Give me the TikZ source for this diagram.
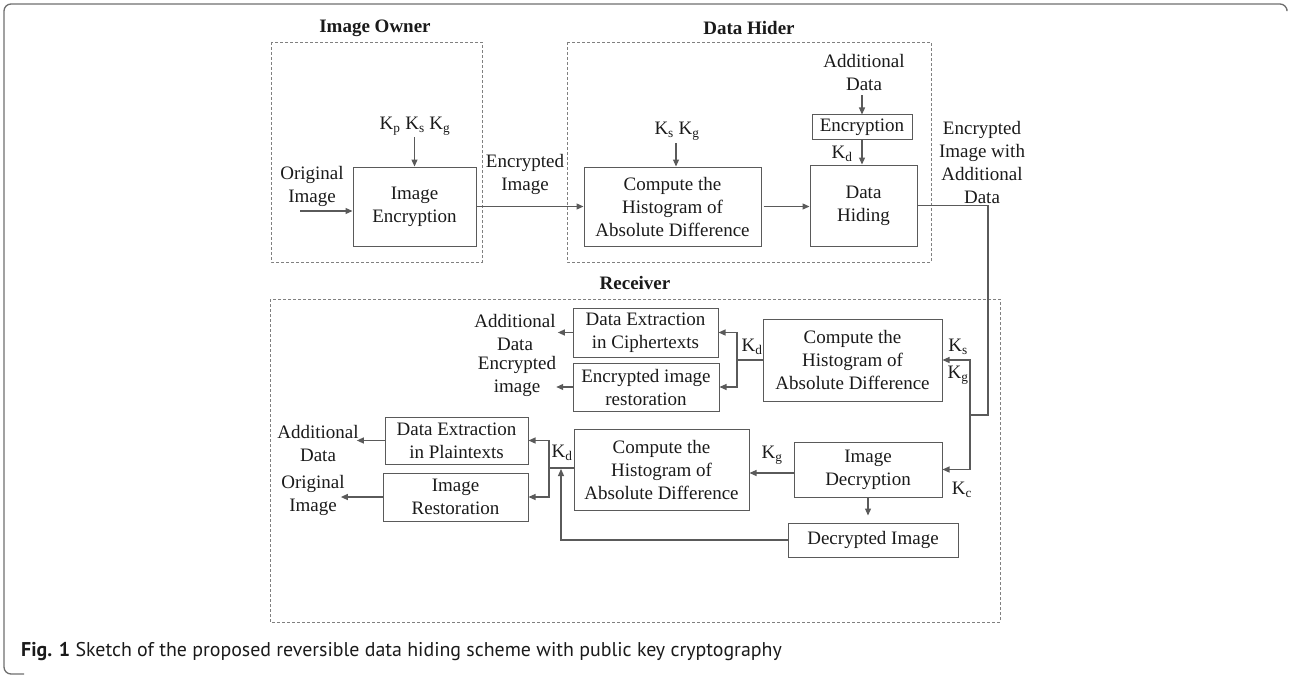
\documentclass[tikz,border=0pt]{standalone}
\usepackage{fontspec}
\setmainfont{Liberation Serif}
\newfontfamily\capfont{PT Sans}
\usetikzlibrary{arrows.meta}
\definecolor{linec}{HTML}{5A5A5A}
\definecolor{dashc}{HTML}{808080}
\definecolor{txtc}{HTML}{1A1A1A}
\definecolor{framec}{HTML}{6E6E6E}

\begin{document}
\begin{tikzpicture}[x=1pt,y=-1pt,
  every node/.style={font=\fontsize{19}{23}\selectfont, text=txtc},
  blk/.style={draw=linec, line width=1pt, align=center, inner sep=0pt},
  lbl/.style={align=center, inner sep=0pt},
  grp/.style={draw=dashc, line width=0.9pt, dash pattern=on 3pt off 2pt},
  conn/.style={draw=linec, line width=1.2pt},
  arr/.style={conn, -{Triangle[length=7pt,width=6pt]}},
  ttl/.style={font=\fontsize{19}{23}\selectfont\bfseries, inner sep=0pt}
]
\useasboundingbox (0,0) rectangle (1289,674);

% outer frame (top and left sides)
\draw[framec, line width=1.3pt, rounded corners=7pt]
  (1287,9) -- (1287,4) -- (4,4) -- (4,674) -- (24,674);

% groups
\draw[grp] (271,42) rectangle (482,262);
\draw[grp] (567,42) rectangle (931,262);
\draw[grp] (270,299) rectangle (1000,622);
\node[ttl] (tOwner) at (375,28) {Image Owner};
\node[ttl] (tHider) at (749,28) {Data Hider};
\node[ttl] (tRecv)  at (635,283) {Receiver};

% ---------------- Image owner ----------------
\node[blk, minimum width=123pt, minimum height=79pt] (enc) at (414.5,206.5) {Image\\Encryption};
\node[lbl] (k1) at (415,126) {K\textsubscript{p} K\textsubscript{s} K\textsubscript{g}};
\node[lbl] (orig) at (312,186) {Original\\Image};
\coordinate (oin) at (300,211);
\draw[arr] (oin) -- (oin -| enc.west);
\draw[arr] (k1.south -| enc.north) ++(0,2) -- (enc.north);
\node[lbl] (encimg) at (525,174) {Encrypted\\Image};

% ---------------- Data hider ----------------
\node[blk, minimum width=177pt, minimum height=79pt] (cdh) at (672.5,206.5) {Compute the\\Histogram of\\Absolute Difference};
\node[blk, minimum width=107pt, minimum height=81pt] (hide) at (863.5,205.5) {Data\\Hiding};
\node[blk, minimum width=100pt, minimum height=24pt] (encr) at (862,127) {Encryption};
\node[lbl] (k2) at (677,131) {K\textsubscript{s} K\textsubscript{g}};
\node[lbl] (adata) at (864,73) {Additional\\Data};
\node[lbl] (kd1) at (842,154) {K\textsubscript{d}};
\node[lbl] (outlbl) at (982,163) {Encrypted\\Image with\\Additional\\Data};

\draw[arr] (enc.east) -- (cdh.west |- enc.east);
\draw[arr] (676,143) coordinate (k2a) -- (k2a |- cdh.north);
\draw[arr] ([xshift=2pt]cdh.east) -- (hide.west |- cdh.east);
\draw[arr] (adata.south -| encr.north) ++(0,4) -- (encr.north);
\draw[arr] (encr.south) -- (encr.south |- hide.north);

% ---------------- Receiver ----------------
\node[blk, minimum width=179pt, minimum height=82pt] (rcd) at (852.5,360) {Compute the\\Histogram of\\Absolute Difference};
\node[blk, minimum width=145pt, minimum height=49pt] (dec) at (645.5,332.5) {Data Extraction\\in Ciphertexts};
\node[blk, minimum width=146pt, minimum height=48pt] (eir) at (646,387) {Encrypted image\\restoration};
\node[blk, minimum width=143pt, minimum height=47pt] (dep) at (456.5,440.5) {Data Extraction\\in Plaintexts};
\node[blk, minimum width=145pt, minimum height=48pt] (ir) at (455.5,497) {Image\\Restoration};
\node[blk, minimum width=175pt, minimum height=81pt] (rcl) at (661.5,469.5) {Compute the\\Histogram of\\Absolute Difference};
\node[blk, minimum width=148pt, minimum height=55pt] (idec) at (868,469.5) {Image\\Decryption};
\node[blk, minimum width=170pt, minimum height=34pt] (dimg) at (873,540) {Decrypted Image};

\node[lbl] (ks3) at (958,347) {K\textsubscript{s}};
\node[lbl] (kg3) at (958,375) {K\textsubscript{g}};
\node[lbl] (kc3) at (962,490) {K\textsubscript{c}};
\node[lbl] (kd3) at (752,347) {K\textsubscript{d}};
\node[lbl] (kd4) at (562,453) {K\textsubscript{d}};
\node[lbl] (kg4) at (772,455) {K\textsubscript{g}};

\node[lbl] (adu) at (515,332) {Additional\\Data};
\node[lbl] (eil) at (517,376) {Encrypted\\image};
\node[lbl] (adl) at (318,443) {Additional\\Data};
\node[lbl] (oil) at (313,495) {Original\\Image};

% data hider output into the receiver
\coordinate (bend) at (988,415);
\coordinate (bus) at (970,415);
\draw[conn] (hide.east) -| (bend) -- (bus);
\draw[arr] (bus) |- (rcd.east);
\draw[arr] (bus) |- (idec.east);

% upper branch
\coordinate (j1) at (737,360);
\draw[conn] (rcd.west) -- (j1);
\draw[arr] (j1) |- (dec.east);
\draw[arr] (j1) |- (eir.east);
\draw[arr] (dec.west) -- ([xshift=2pt]adu.east |- dec.west);
\draw[arr] (eir.west) -- ([xshift=0pt]eil.east |- eir.west);

% lower branch
\coordinate (j2) at (549,468);
\draw[conn] (rcl.west |- j2) -- (j2);
\draw[arr] (j2) |- (dep.east);
\draw[arr] (j2) |- (ir.east);
\draw[arr] (dep.west) -- ([xshift=-2pt]adl.east |- dep.west);
\draw[arr] (ir.west) -- ([xshift=-4pt]oil.east |- ir.west);

\draw[arr] (idec.west |- 0,473) -- (rcl.east |- 0,473);
\draw[arr, shorten >=7pt] (idec.south) -- (idec.south |- dimg.north);
\coordinate (up) at (561,469);
\draw[arr] (dimg.west) -| (up);

% caption
\node[anchor=west, inner sep=0pt, font=\capfont\fontsize{19.9}{23}\selectfont] (cap) at (21,652)
  {\textbf{Fig. 1} Sketch of the proposed reversible data hiding scheme with public key cryptography};
\end{tikzpicture}
\end{document}
